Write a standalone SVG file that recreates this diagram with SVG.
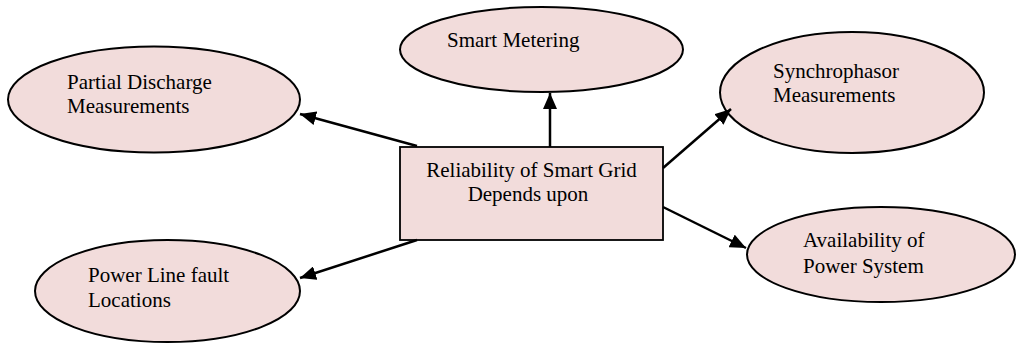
<svg xmlns="http://www.w3.org/2000/svg" width="1019" height="343" viewBox="0 0 1019 343">
<style>
.node{fill:#f2dcdb;stroke:#000;stroke-width:2}
.box{fill:#f2dcdb;stroke:#000;stroke-width:1.8}
.lbl{font-family:"Liberation Serif","Times New Roman",serif;font-size:21px;fill:#000}
.edge{stroke:#000;stroke-width:2.5;fill:none;marker-end:url(#ah)}
</style>
<defs>
<marker id="ah" markerUnits="userSpaceOnUse" markerWidth="16" markerHeight="14" refX="16" refY="7" orient="auto">
<path d="M0,0 L16,7 L0,14 Z" fill="#000"/>
</marker>
</defs>
<g id="center">
<rect class="box" x="400" y="147" width="263" height="93"/>
<text class="lbl" x="531.5" y="177" text-anchor="middle">Reliability of Smart Grid</text>
<text class="lbl" x="528" y="201" text-anchor="middle">Depends upon</text>
</g>
<g id="partial">
<ellipse class="node" cx="154" cy="99.5" rx="146" ry="53"/>
<text class="lbl" x="67" y="89">Partial Discharge</text>
<text class="lbl" x="67" y="113">Measurements</text>
</g>
<g id="metering">
<ellipse class="node" cx="541.5" cy="49.5" rx="141.5" ry="42.5"/>
<text class="lbl" x="447" y="47">Smart Metering</text>
</g>
<g id="synchro">
<ellipse class="node" cx="852" cy="92.5" rx="132" ry="60.5"/>
<text class="lbl" x="773" y="78">Synchrophasor</text>
<text class="lbl" x="773" y="102">Measurements</text>
</g>
<g id="powerline">
<ellipse class="node" cx="167.5" cy="291" rx="132.5" ry="51"/>
<text class="lbl" x="88" y="282">Power Line fault</text>
<text class="lbl" x="88" y="307">Locations</text>
</g>
<g id="availability">
<ellipse class="node" cx="881" cy="254.5" rx="134" ry="47.5"/>
<text class="lbl" x="803" y="247">Availability of</text>
<text class="lbl" x="803" y="273">Power System</text>
</g>
<g id="connectors">
<line class="edge" x1="417" y1="146" x2="300" y2="114"/>
<line class="edge" x1="550" y1="147" x2="550" y2="93"/>
<line class="edge" x1="663" y1="168" x2="731" y2="109"/>
<line class="edge" x1="663" y1="207" x2="746" y2="248"/>
<line class="edge" x1="417" y1="240" x2="300" y2="278"/>
</g>
</svg>
